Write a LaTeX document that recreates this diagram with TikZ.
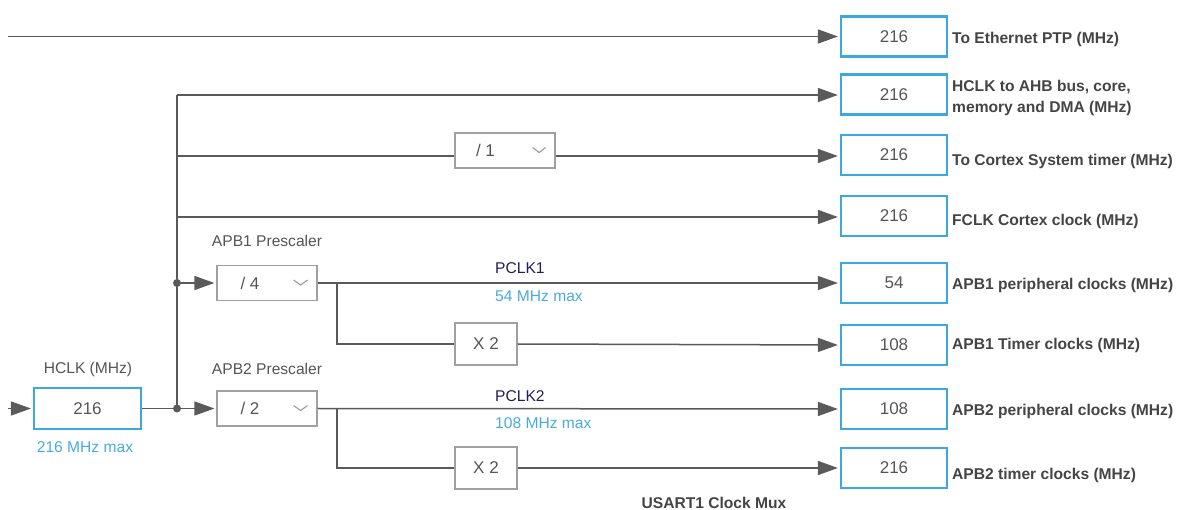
\documentclass[tikz,border=0pt]{standalone}
\usepackage{fontspec}
\setmainfont{Liberation Sans}
\usetikzlibrary{arrows.meta}
\definecolor{ln}{HTML}{5A5A5A}
\definecolor{bblue}{HTML}{3DA8DF}
\definecolor{tblue}{HTML}{4AAAE0}
\definecolor{navy}{HTML}{1E1E5A}
\definecolor{txt}{HTML}{555555}
\definecolor{lbl}{HTML}{444444}
\definecolor{ddb}{HTML}{A0A0A0}
\tikzset{
  outbox/.style={draw=bblue, line width=2.2pt, minimum width=106pt, minimum height=40pt, inner sep=0pt, text=txt, font=\fontsize{17}{20}\selectfont},
  dd/.style={draw=ddb, line width=1.2pt, minimum height=35pt, inner sep=0pt, text=txt, font=\fontsize{17}{20}\selectfont},
  wire/.style={draw=ln, line width=1.5pt},
  arr/.style={wire, -{Triangle[length=20pt,width=14pt]}, shorten >=2pt},
  lab/.style={anchor=west, font=\bfseries\fontsize{15.6}{21}\selectfont, text=lbl, inner sep=0pt, align=left},
  txtcap/.style={font=\fontsize{15.6}{18}\selectfont, text=txt, inner sep=0pt},
  bluecap/.style={font=\fontsize{15.6}{18}\selectfont, text=tblue, inner sep=0pt},
  navycap/.style={font=\fontsize{15.6}{18}\selectfont, text=navy, inner sep=0pt, anchor=west},
  dot/.style={circle, fill=ln, minimum size=8pt, inner sep=0pt},
  chev/.style={draw=ddb, line width=1.2pt}
}
\begin{document}
\begin{tikzpicture}[x=1pt, y=-1pt]
\useasboundingbox (0,0) rectangle (1179,510);

% output boxes
\node[outbox] (o1) at (894,36.5) {216};
\node[outbox] (o2) at (894,94.5) {216};
\node[outbox] (o3) at (894,155) {216};
\node[outbox] (o4) at (894,216) {216};
\node[outbox] (o5) at (894,283) {54};
\node[outbox] (o6) at (894,345) {108};
\node[outbox] (o7) at (894,409) {108};
\node[outbox] (o8) at (894,468) {216};

% output labels
\node[lab] (l1) at (952,39.5) {To Ethernet PTP (MHz)};
\node[lab] (l2) at (952,98) {HCLK to AHB bus, core,\\memory and DMA (MHz)};
\node[lab] (l3) at (952,161.5) {To Cortex System timer (MHz)};
\node[lab] (l4) at (952,221.5) {FCLK Cortex clock (MHz)};
\node[lab] (l5) at (952,285.5) {APB1 peripheral clocks (MHz)};
\node[lab] (l6) at (952,345.5) {APB1 Timer clocks (MHz)};
\node[lab] (l7) at (952,411.5) {APB2 peripheral clocks (MHz)};
\node[lab] (l8) at (952,475.5) {APB2 timer clocks (MHz)};

% HCLK box
\node[outbox, minimum width=107pt, minimum height=41pt] (hclk) at (87.5,408.5) {216};
\node[txtcap] (hclkl) at (88,369) {HCLK (MHz)};
\node[bluecap] (hclkm) at (85,447) {216 MHz max};
\coordinate (in) at (8,408.5);
\draw[arr] (in) -- (hclk.west);

% junctions
\node[dot] (j2) at (177,408.5) {};
\node[dot] (j1) at (177,283) {};
\coordinate (top) at (177,95);
\coordinate (b3) at (177,156);
\coordinate (b4) at (177,217);

% prescalers
\node[dd, minimum width=100pt] (apb1) at (267,283) {/ 4\kern34pt};
\node[dd, minimum width=100pt] (apb2) at (267,408.5) {/ 2\kern34pt};
\node[dd, minimum width=100pt] (div1) at (505,150.5) {/ 1\kern39pt};
\node[dd, minimum width=62pt, minimum height=42pt] (x2a) at (486,344) {X 2};
\node[dd, minimum width=62pt, minimum height=42pt] (x2b) at (486,468) {X 2};
\node[txtcap] (apb1l) at (267,241) {APB1 Prescaler};
\node[txtcap] (apb2l) at (267,369) {APB2 Prescaler};

% chevrons
\draw[chev] ([xshift=-24pt,yshift=3pt]apb1.east) -- ++(7,5) -- ++(7,-5);
\draw[chev] ([xshift=-24pt,yshift=3pt]apb2.east) -- ++(7,5) -- ++(7,-5);
\draw[chev] ([xshift=-23pt,yshift=3pt]div1.east) -- ++(6.5,5) -- ++(6.5,-5);

% PCLK labels
\node[navycap] (p1) at (495,268) {PCLK1};
\node[bluecap, anchor=west] (p1m) at (495,296) {54 MHz max};
\node[navycap] (p2) at (495,396) {PCLK2};
\node[bluecap, anchor=west] (p2m) at (495,423) {108 MHz max};

% wires
\coordinate (eth) at (8,36.5);
\draw[arr] (eth) -- (o1.west);
\draw[wire] (hclk.east) -- (j2);
\draw[wire] (j2.center) -- (top);
\draw[arr] (top) -- (top -| o2.west);
\draw[wire] (b3) -- (b3 -| div1.west);
\draw[arr] (b3 -| div1.east) -- (b3 -| o3.west);
\draw[arr] (b4) -- (b4 -| o4.west);
\draw[arr] (j1) -- (apb1.west);
\draw[arr] (j2) -- (apb2.west);
\draw[arr] (apb1.east) -- (o5.west);
\draw[arr] (apb2.east) -- (o7.west);
\coordinate (s1) at (337,283);
\coordinate (s2) at (337,408.5);
\draw[wire] (s1) |- (x2a.west);
\draw[wire] (s2) |- (x2b.west);
\draw[arr] (x2a.east) -- (o6.west);
\draw[arr] (x2b.east) -- (o8.west);

\node[font=\bfseries\fontsize{15.6}{18}\selectfont, text=lbl, inner sep=0pt, anchor=base] (usart) at (714,509) {USART1 Clock Mux};
\end{tikzpicture}
\end{document}
